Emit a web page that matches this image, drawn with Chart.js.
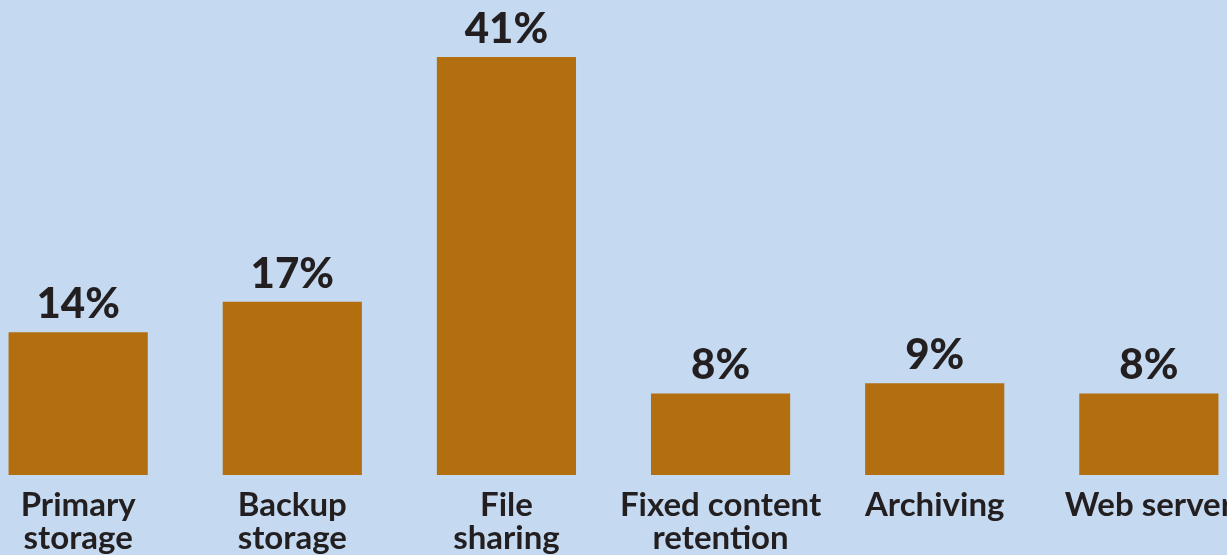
<!DOCTYPE html>
<html>
<head>
<meta charset="utf-8">
<script src="https://cdn.jsdelivr.net/npm/chart.js@4/dist/chart.umd.min.js"></script>
<style>
  html, body { margin: 0; padding: 0; background: #c5daf1; }
  #canvasContainer { width: 1227px; height: 555px; }
</style>
</head>
<body>
<div id="canvasContainer"><canvas id="Grafica"></canvas></div>
<script>
// categories (x index) and share of use, in %
const categories = [
    ['Primary', 'storage'],
    ['Backup', 'storage'],
    ['File', 'sharing'],
    ['Fixed content', 'retention'],
    ['Archiving'],
    ['Web server']
];
const shares = [14, 17, 41, 8, 9, 8];
const shareLabels = ['14%', '17%', '41%', '8%', '9%', '8%'];

const barColor = '#b36f0f';
const textColor = '#231f20';

// value text above each bar
const valueLabels = {
    id: 'valueLabels',
    afterDatasetsDraw(chart){
        let ctx = chart.ctx;
        let meta = chart.getDatasetMeta(0);
        ctx.save();
        ctx.fillStyle = textColor;
        ctx.font = '900 42px Lato';
        ctx.textAlign = 'center';
        ctx.textBaseline = 'alphabetic';
        meta.data.forEach((bar, i) => {
            ctx.fillText(shareLabels[i], bar.x, bar.y - 14);
        });
        ctx.restore();
    }
};

let points = shares.map((v, i) => ({'x': i, 'y': v}));

let config = {
    'type': 'bar',
    'data': {
        'datasets': [
            {
                'data': points,
                'backgroundColor': barColor,
                'borderWidth': 0,
                'barPercentage': 0.65,
                'categoryPercentage': 1
            }
        ]
    },
    'options': {
        'responsive': true,
        'maintainAspectRatio': false,
        'animation': false,
        'layout': {'padding': 0},
        'plugins': {
            'legend': {'display': false},
            'tooltip': {'enabled': false}
        },
        'scales': {
            'x': {
                'type': 'linear',
                'offset': false,
                'min': -0.365,
                'max': 5.365,
                'grid': {'display': false},
                'border': {'display': false},
                'afterBuildTicks': function(scale){
                    scale.ticks = categories.map((c, i) => ({'value': i}));
                },
                'afterFit': function(scale){
                    // let edge labels run to the canvas border, labels cut at bottom
                    scale.paddingLeft = 0;
                    scale.paddingRight = 0;
                    scale.height = scale.height - 6;
                },
                'ticks': {
                    'autoSkip': false,
                    'maxRotation': 0,
                    'padding': 6,
                    'color': textColor,
                    'font': {'family': 'Lato', 'weight': 'bold', 'size': 33, 'lineHeight': 1.0},
                    'callback': function(value){
                        return categories[value];
                    }
                }
            },
            'y': {
                'display': false,
                'min': 0,
                'max': 46.6
            }
        }
    },
    'plugins': [valueLabels]
};

new Chart(document.getElementById('Grafica').getContext('2d'), config);
</script>
</body>
</html>
